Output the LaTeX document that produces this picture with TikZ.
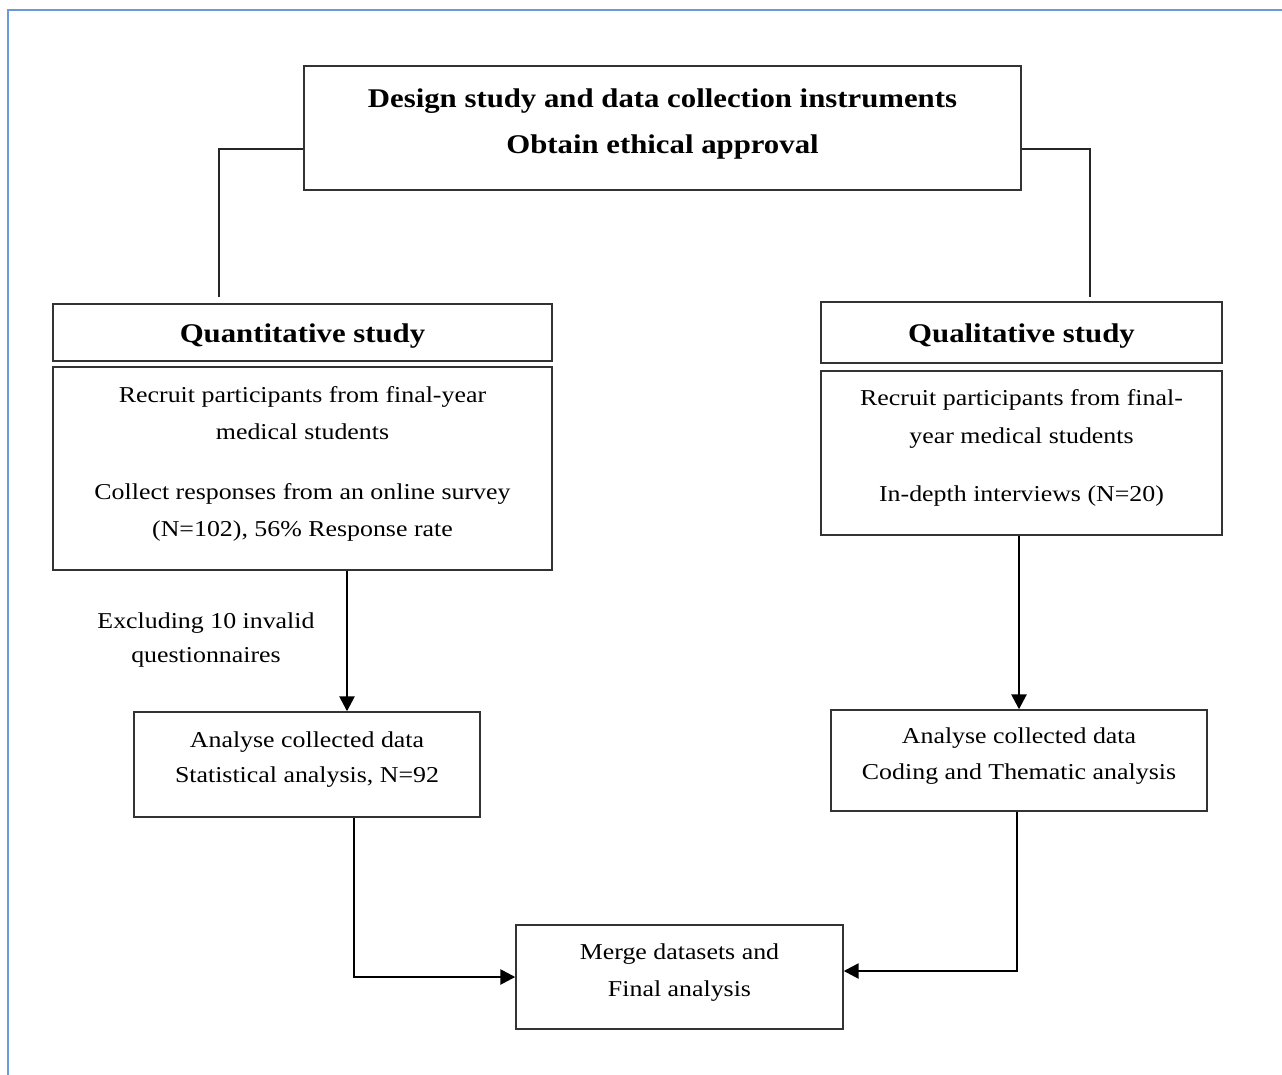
\documentclass[tikz,border=0pt]{standalone}
\usepackage{fontspec}
\setmainfont{Liberation Serif}[FakeStretch=1.14]
\usetikzlibrary{arrows.meta,calc}
\definecolor{frameblue}{HTML}{6A9BD8}
\definecolor{boxline}{HTML}{333333}
\tikzset{
  box/.style={draw=boxline,line width=1.4pt,inner sep=0pt,align=center,
    text depth=14pt,font=\fontsize{22.7}{37.5}\selectfont},
  headbox/.style={draw=boxline,line width=1.4pt,inner sep=0pt,align=center,
    font=\bfseries\fontsize{27}{46}\selectfont},
  arr/.style={draw=black,line width=2.6pt,-{Triangle[length=15pt,width=15pt]}},
  link/.style={draw=black!85,line width=2pt},
  note/.style={inner sep=0pt,align=center,font=\fontsize{22.7}{34}\selectfont}
}
\begin{document}
\begin{tikzpicture}[x=1pt,y=-1pt]
\useasboundingbox (0,0) rectangle (1282,1075);
\fill[white] (0,0) rectangle (1282,1075);
\draw[frameblue,line width=1.5pt] (8,1075) -- (8,10) -- (1282,10);

\node[headbox,text depth=14pt,minimum width=717pt,minimum height=124pt] (top) at (662.5,128)
  {Design study and data collection instruments\\Obtain ethical approval};

\node[headbox,text height=26pt,minimum width=499pt,minimum height=57pt] (qnh) at (302.5,332.5)
  {Quantitative study};
\node[box,minimum width=499pt,minimum height=203pt] (qnb) at (302.5,468.5)
  {Recruit participants from final-year\\medical students\\[22pt]
   Collect responses from an online survey\\(N=102), 56\% Response rate};

\node[headbox,text height=26pt,minimum width=401pt,minimum height=61pt] (qlh) at (1021.5,332.5)
  {Qualitative study};
\node[box,minimum width=401pt,minimum height=164pt] (qlb) at (1021.5,453)
  {Recruit participants from final-\\year medical students\\[21pt]
   In-depth interviews (N=20)};

\node[note] (excl) at (206,640) {Excluding 10 invalid\\questionnaires};

\node[box,minimum width=346pt,minimum height=105pt,
  font=\fontsize{22.7}{35}\selectfont] (anl) at (307,764.5)
  {Analyse collected data\\Statistical analysis, N=92};
\node[box,minimum width=376pt,minimum height=101pt,
  font=\fontsize{22.7}{36}\selectfont] (anr) at (1019,760.5)
  {Analyse collected data\\Coding and Thematic analysis};

\node[box,minimum width=327pt,minimum height=104pt] (mrg) at (679.5,977)
  {Merge datasets and\\Final analysis};

\draw[link,shorten >=6pt] ([yshift=-21pt]top.west) -| ([xshift=-83.5pt]qnh.north);
\draw[link,shorten >=4pt] ([yshift=-21pt]top.east) -| ([xshift=68.5pt]qlh.north);

\draw[arr] ([xshift=44.5pt]qnb.south) -- ([xshift=40pt]anl.north);
\draw[arr] ([xshift=-2.5pt]qlb.south) -- (anr.north);

\draw[arr] ([xshift=47pt]anl.south) |- (mrg.west);
\draw[arr] ([xshift=-2pt]anr.south) |- ([yshift=6pt]mrg.east);
\end{tikzpicture}
\end{document}
